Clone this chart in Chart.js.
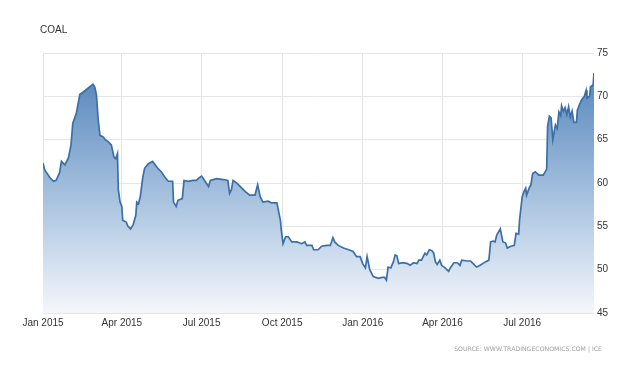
<!DOCTYPE html>
<html>
<head>
<meta charset="utf-8">
<script src="https://cdn.jsdelivr.net/npm/chart.js@4"></script>
<style>
  html, body { margin: 0; padding: 0; background: #fff; }
  #wrap { position: relative; width: 640px; height: 384px; overflow: hidden; }
  #c { position: absolute; left: 0; top: 0; }
  #title { position: absolute; left: 40px; top: 24px; font: 10px "Liberation Sans", Arial, sans-serif; color: #333; }
  #source { position: absolute; right: 38px; top: 345px; font: 6.2px "DejaVu Sans", sans-serif; color: #a0a0a0; letter-spacing: 0px; white-space: nowrap; }
</style>
</head>
<body>
<div id="wrap">
  <canvas id="c" width="640" height="384"></canvas>
  <div id="title">COAL</div>
  <div id="source">SOURCE: WWW.TRADINGECONOMICS.COM | ICE</div>
</div>
<script>
const dates = [
 '2015-01-01','2015-01-03','2015-01-09','2015-01-13','2015-01-16','2015-01-20','2015-01-22','2015-01-26','2015-01-30',
 '2015-02-02','2015-02-04','2015-02-08','2015-02-12','2015-02-16','2015-02-21','2015-02-27',
 '2015-03-01','2015-03-03','2015-03-05','2015-03-07','2015-03-11','2015-03-13','2015-03-16','2015-03-20','2015-03-23','2015-03-25','2015-03-27','2015-03-28','2015-03-30',
 '2015-04-01','2015-04-02','2015-04-06','2015-04-08','2015-04-11','2015-04-14','2015-04-17','2015-04-18','2015-04-20','2015-04-22','2015-04-25','2015-04-27',
 '2015-05-01','2015-05-06','2015-05-09','2015-05-12','2015-05-16','2015-05-20','2015-05-24','2015-05-29','2015-05-30',
 '2015-06-02','2015-06-04','2015-06-09','2015-06-11','2015-06-16','2015-06-21','2015-06-25','2015-06-28',
 '2015-07-01','2015-07-05','2015-07-09','2015-07-11','2015-07-18','2015-07-26','2015-07-31',
 '2015-08-02','2015-08-04','2015-08-06','2015-08-10','2015-08-14','2015-08-20','2015-08-25','2015-08-31',
 '2015-09-03','2015-09-06','2015-09-09','2015-09-15','2015-09-19','2015-09-25','2015-09-29','2015-09-30',
 '2015-10-02','2015-10-05','2015-10-08','2015-10-12','2015-10-18','2015-10-23','2015-10-27','2015-10-29',
 '2015-11-04','2015-11-06','2015-11-11','2015-11-15','2015-11-21','2015-11-25','2015-11-28','2015-11-30',
 '2015-12-04','2015-12-10','2015-12-16','2015-12-21','2015-12-25','2015-12-29',
 '2016-01-01','2016-01-04','2016-01-06','2016-01-09','2016-01-13','2016-01-19','2016-01-23','2016-01-26','2016-01-28','2016-01-30',
 '2016-02-02','2016-02-05','2016-02-07','2016-02-09','2016-02-11','2016-02-16','2016-02-21','2016-02-24','2016-02-28',
 '2016-03-03','2016-03-05','2016-03-08','2016-03-12','2016-03-14','2016-03-17','2016-03-20','2016-03-22','2016-03-24','2016-03-26','2016-03-29','2016-03-31',
 '2016-04-04','2016-04-08','2016-04-10','2016-04-14','2016-04-18','2016-04-21','2016-04-23','2016-04-29',
 '2016-05-03','2016-05-06','2016-05-10','2016-05-14','2016-05-20','2016-05-24','2016-05-26','2016-05-29','2016-05-31',
 '2016-06-02','2016-06-06','2016-06-09','2016-06-12','2016-06-14','2016-06-18','2016-06-22','2016-06-24','2016-06-27','2016-06-28',
 '2016-07-01','2016-07-03','2016-07-05','2016-07-06','2016-07-09','2016-07-11','2016-07-13','2016-07-16','2016-07-20','2016-07-25','2016-07-29','2016-07-30',
 '2016-08-01','2016-08-03','2016-08-05','2016-08-08','2016-08-10','2016-08-12','2016-08-14','2016-08-15','2016-08-17','2016-08-19','2016-08-21','2016-08-23','2016-08-25','2016-08-27','2016-08-29',
 '2016-09-01','2016-09-02','2016-09-05','2016-09-07','2016-09-10','2016-09-12','2016-09-13','2016-09-16','2016-09-17','2016-09-20','2016-09-21'
];
const coal = [
 62.3,61.5,60.6,60.2,60.3,61.2,62.5,62.1,62.9,
 64.4,66.9,68.0,70.2,70.5,70.9,71.4,
 71.1,70.2,67.3,65.5,65.3,65.0,64.8,64.4,63.0,62.8,63.4,59.2,57.8,
 57.3,55.7,55.5,55.0,54.7,55.2,56.3,57.8,57.6,58.4,60.7,61.7,
 62.2,62.5,62.1,61.7,61.3,60.7,60.2,60.2,57.8,
 57.3,58.0,58.2,60.3,60.2,60.3,60.3,60.6,
 60.8,60.2,59.6,60.3,60.5,60.4,60.3,
 58.8,59.2,60.3,60.0,59.6,59.0,58.6,58.6,
 59.8,58.4,57.8,57.9,57.7,57.7,55.7,54.6,
 53.0,53.8,53.8,53.2,53.2,53.0,53.2,52.8,
 52.8,52.3,52.3,52.7,52.8,52.8,53.7,53.2,
 52.8,52.5,52.3,52.1,51.5,51.5,
 50.7,50.2,51.5,50.0,49.2,49.0,49.1,49.1,48.8,50.3,
 50.2,50.9,51.7,51.6,50.7,50.8,50.7,50.5,50.8,
 50.7,51.1,51.1,51.9,51.7,52.3,52.2,51.9,50.9,50.6,51.1,50.5,
 50.2,49.8,50.2,50.8,50.8,50.5,51.1,51.0,
 51.0,50.7,50.3,50.5,50.9,51.1,53.2,53.3,53.2,
 54.0,54.7,53.2,53.1,52.5,52.7,52.8,54.2,54.1,55.7,
 58.4,59.0,59.4,58.6,59.4,59.8,61.1,61.3,60.9,60.9,61.6,66.5,
 67.7,67.5,65.0,66.7,66.3,68.2,67.8,68.9,68.3,68.7,67.9,68.8,67.6,68.3,67.0,
 67.0,68.4,69.2,69.6,70.0,70.7,69.8,70.0,71.1,71.3,72.7
];
const tickDates = ['2015-01-01','2015-04-01','2015-07-01','2015-10-01','2016-01-01','2016-04-01','2016-07-01'];
const tickLabels = ['Jan 2015','Apr 2015','Jul 2015','Oct 2015','Jan 2016','Apr 2016','Jul 2016'];
const yTicks = [45, 50, 55, 60, 65, 70, 75];

const DAY = 86400000;
const origin = Date.UTC(2015, 0, 1);
function dayOf(s) {
  const p = s.split('-').map(Number);
  return Math.round((Date.UTC(p[0], p[1] - 1, p[2]) - origin) / DAY);
}
const points = dates.map((d, i) => ({ x: dayOf(d), y: coal[i] }));
const tickDays = tickDates.map(dayOf);

new Chart(document.getElementById('c'), {
  type: 'line',
  data: {
    datasets: [{
      data: points,
      borderColor: '#3c6fa6',
      borderWidth: 1.7,
      pointRadius: 0,
      tension: 0,
      fill: 'start',
      backgroundColor: (ctx) => {
        const area = ctx.chart.chartArea;
        if (!area) return 'rgba(70,120,180,0.5)';
        const g = ctx.chart.ctx.createLinearGradient(0, area.top, 0, area.bottom);
        g.addColorStop(0, '#4a7db5');
        g.addColorStop(0.5, '#9dbbdb');
        g.addColorStop(1, '#f4f7fb');
        return g;
      }
    }]
  },
  options: {
    responsive: false,
    animation: false,
    layout: { padding: { left: 43, top: 53, right: 0, bottom: 0 } },
    plugins: { legend: { display: false }, tooltip: { enabled: false }, title: { display: false } },
    scales: {
      x: {
        type: 'linear',
        min: 0,
        max: dayOf(dates[dates.length - 1]),
        afterBuildTicks: (scale) => { scale.ticks = tickDays.map(v => ({ value: v })); },
        afterFit: (scale) => { scale.height = 71; },
        ticks: {
          autoSkip: false,
          maxRotation: 0,
          padding: 4,
          color: '#333',
          font: { family: 'Liberation Sans', size: 10 },
          callback: (v) => { const i = tickDays.indexOf(v); return i >= 0 ? tickLabels[i] : ''; }
        },
        grid: { color: '#e4e4e4', lineWidth: 1, drawTicks: false },
        border: { display: false }
      },
      y: {
        position: 'right',
        min: 45,
        max: 75,
        afterBuildTicks: (scale) => { scale.ticks = yTicks.map(v => ({ value: v })); },
        afterFit: (scale) => { scale.width = 46; },
        ticks: {
          padding: 3,
          color: '#333',
          font: { family: 'Liberation Sans', size: 10 }
        },
        grid: { color: '#e6e6e6', lineWidth: 1, drawTicks: false },
        border: { display: false }
      }
    }
  }
});
</script>
</body>
</html>
